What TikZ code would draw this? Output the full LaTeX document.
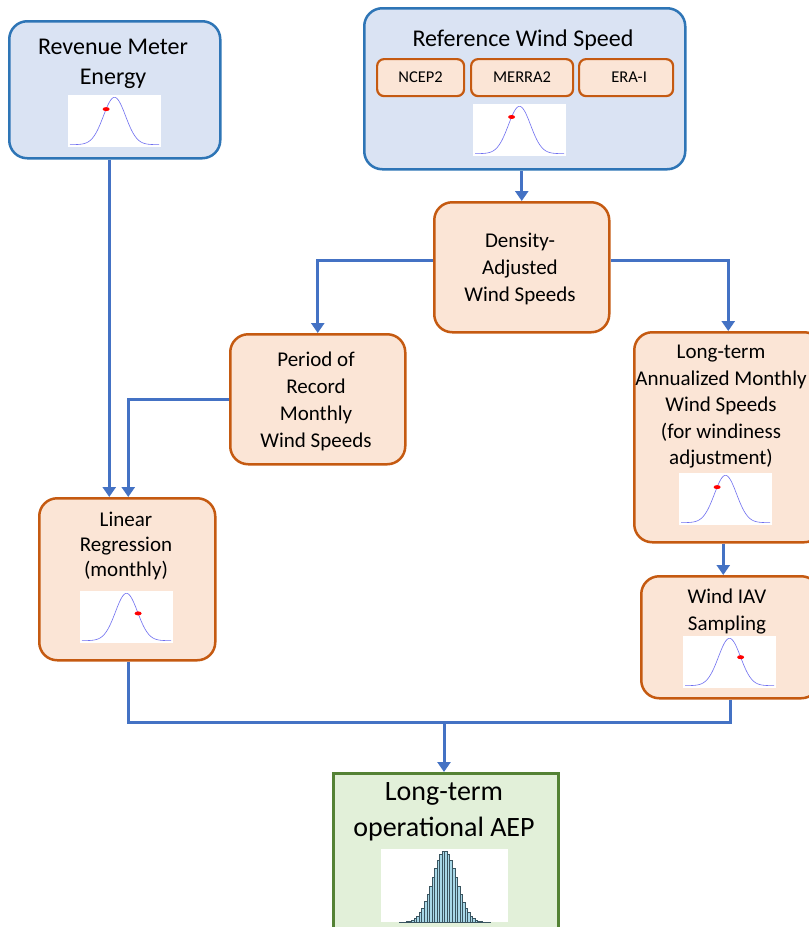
\documentclass[tikz,border=0pt]{standalone}
\usepackage{fontspec}
\setmainfont{Carlito}
\usetikzlibrary{arrows.meta,calc}
\definecolor{bfill}{HTML}{DAE3F3}
\definecolor{bdraw}{HTML}{2E75B6}
\definecolor{ofill}{HTML}{FBE5D6}
\definecolor{odraw}{HTML}{C55A11}
\definecolor{gfill}{HTML}{E2F0D9}
\definecolor{gdraw}{HTML}{548235}
\definecolor{conncol}{HTML}{4472C4}
\definecolor{gausscol}{HTML}{6F6FF0}
\definecolor{barfill}{HTML}{A8D8E8}
\definecolor{barline}{HTML}{3A5560}
\newcommand\fsBig{\fontsize{24}{30}\selectfont}
\newcommand\fsMid{\fontsize{21}{27}\selectfont}
\newcommand\fsSmall{\fontsize{16.5}{18}\selectfont}
\newcommand\fsAep{\fontsize{28}{36}\selectfont}
\tikzset{
  box/.style={rectangle, rounded corners=18pt, line width=2.5pt, anchor=north west, inner sep=0pt},
  bluebox/.style={box, draw=bdraw, fill=bfill},
  orangebox/.style={box, draw=odraw, fill=ofill},
  srcbox/.style={box, rounded corners=7pt, draw=odraw, fill=ofill, line width=2.2pt},
  greenbox/.style={rectangle, anchor=north west, inner sep=0pt, line width=2.5pt, draw=gdraw, fill=gfill},
  inset/.style={rectangle, anchor=north west, fill=white, inner sep=0pt, minimum width=93pt, minimum height=52pt},
  label/.style={align=center, inner sep=0pt, text=black},
  conn/.style={draw=conncol, line width=3pt, -{Triangle[width=13pt,length=10pt]}},
  line/.style={draw=conncol, line width=3pt},
  gline/.style={draw=gausscol, line width=0.6pt},
}
\newcommand\gaussinset[4]{%
  \node[inset] (#1) at (#2,#3) {};
  \begin{scope}[shift={(#2,#3)}]
    \draw[gline] plot[domain=2:91,samples=90,smooth] (\x,{52*(0.955-0.91*exp(-0.5*pow((\x/93-0.5)/0.119,2)))});
    \fill[red] ({93*#4},{52*(0.955-0.91*exp(-0.5*pow((#4-0.5)/0.119,2)))}) ellipse (3.5 and 2);
  \end{scope}}
\begin{document}
\begin{tikzpicture}[x=1pt,y=-1pt]
\clip (0,0) rectangle (809,927);
\fill[white] (0,0) rectangle (809,927);

% boxes
\node[bluebox, minimum width=211pt, minimum height=137pt] (rev) at (8,20) {};
\node[bluebox, minimum width=321pt, minimum height=161pt] (ref) at (363,7) {};
\node[srcbox, minimum width=87pt, minimum height=37pt] (ncep) at (376,58) {};
\node[srcbox, minimum width=102pt, minimum height=37pt] (merra) at (470,58) {};
\node[srcbox, minimum width=94pt, minimum height=37pt] (era) at (578,58) {};
\node[orangebox, minimum width=175pt, minimum height=130pt] (den) at (433,201) {};
\node[orangebox, minimum width=175pt, minimum height=130pt] (per) at (229,333) {};
\node[orangebox, minimum width=188pt, minimum height=210pt] (ltm) at (633,331) {};
\node[orangebox, minimum width=178pt, minimum height=122pt] (iav) at (640,575) {};
\node[orangebox, minimum width=176pt, minimum height=162pt] (lin) at (38,497) {};
\node[greenbox, minimum width=225pt, minimum height=170pt] (aep) at (332,772) {};

% texts
\node[label, font=\fsBig] (revt) at (113,64) {Revenue Meter\\Energy};
\node[label, font=\fsBig] (reft) at (523,40) {Reference Wind Speed};
\node[label, font=\fsSmall] (ncept) at (ncep.center) {NCEP2};
\node[label, font=\fsSmall] (merrat) at (merra.center) {MERRA2};
\node[label, font=\fsSmall] (erat) at ([xshift=3pt]era.center) {ERA-I};
\node[label, font=\fsMid] (dent) at (520,269) {Density-\\Adjusted\\Wind Speeds};
\node[label, font=\fsMid] (pert) at (316,401) {Period of\\Record\\Monthly\\Wind Speeds};
\node[label, font=\fontsize{21}{26.5}\selectfont] (ltmt) at (721,407) {Long-term\\Annualized Monthly\\Wind Speeds\\(for windiness\\adjustment)};
\node[label, font=\fsMid] (iavt) at (727,612) {Wind IAV\\Sampling};
\node[label, font=\fontsize{21}{25}\selectfont] (lint) at (126,546) {Linear\\Regression\\(monthly)};
\node[label, font=\fsAep] (aept) at (444,812) {Long-term\\operational AEP};

% gaussian insets
\gaussinset{grev}{68}{95}{0.41}
\gaussinset{gref}{473}{104}{0.415}
\gaussinset{gltm}{679}{473}{0.41}
\gaussinset{giav}{683}{636}{0.62}
\gaussinset{glin}{80}{591}{0.625}

% histogram
\node[inset, minimum width=127pt, minimum height=73pt] (hist) at (381,849) {};
\begin{scope}[shift={(381,849)}]
  \foreach \i in {0,...,35}{
    \pgfmathsetmacro\xl{127*(0.14+\i*0.02)}
    \pgfmathsetmacro\xc{0.14+(\i+0.5)*0.02}
    \pgfmathsetmacro\hh{73*0.97*exp(-0.5*pow((\xc-0.5)/0.095,2))}
    \filldraw[fill=barfill, draw=barline, line width=0.3pt] (\xl,73) rectangle ({\xl+2.54},{73-\hh});
  }
\end{scope}

% connectors
\draw[conn] ([xshift=-5.5pt]rev.south) -- ([xshift=-5.5pt]rev.south |- lin.north);
\draw[conn] (per.west) -| ([xshift=1pt]lin.north);
\draw[conn] (ref.south -| den.north) -- (den.north);
\draw[conn] ([yshift=7pt]den.west) -| (per.north);
\draw[conn] ([yshift=7pt]den.east) -| (ltm.north);
\draw[conn] ([xshift=-5pt]ltm.south) -- ([xshift=-5pt]ltm.south |- iav.north);
\coordinate (j) at (444,722);
\draw[line] ([xshift=1pt]lin.south) |- (j);
\draw[line] (iav.south) |- (j);
\draw[conn] (j) -- (j |- aep.north);
\end{tikzpicture}
\end{document}
